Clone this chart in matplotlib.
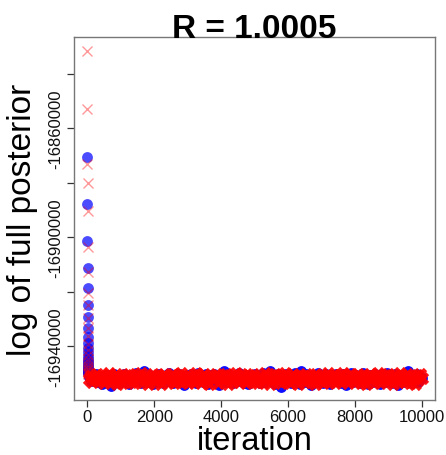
import numpy as np
import matplotlib
matplotlib.use("Agg")
import matplotlib.pyplot as plt

plt.rcParams['font.family'] = ['Liberation Sans', 'DejaVu Sans']

title_text = "R = 1.0005"
x_label = "iteration"
y_label = "log of full posterior"

# burn-in (first iterations) of the two chains
blue_burn_iter = list(range(1, 25))
blue_burn = [-16870440, -16887717, -16901540, -16911243, -16918596, -16924955,
             -16929477, -16933410, -16936828, -16939000, -16940800, -16942300,
             -16943600, -16944700, -16945600, -16946400, -16947100, -16947700,
             -16948200, -16948700, -16949100, -16949500, -16949800, -16950100]
red_burn_iter = list(range(1, 25))
red_burn = [-16831695, -16852905, -16873123, -16880107, -16890290, -16903744,
            -16912714, -16920654, -16924955, -16929623, -16933300, -16936500,
            -16939200, -16941400, -16943200, -16944700, -16945900, -16946900,
            -16947700, -16948400, -16949000, -16949500, -16949900, -16950200]

# stationary part, sampled every 50 iterations
band_iter = list(range(50, 10001, 50))
blue_band = [
    -16951500, -16952800, -16950800, -16952300, -16950300, -16953400, -16951800, -16951100, -16953900, -16951400,
    -16953100, -16950600, -16952500, -16954900, -16951200, -16950200, -16952700, -16951700, -16953600, -16950900,
    -16952200, -16950500, -16953200, -16951300, -16954000, -16951600, -16950700, -16952900, -16950100, -16952400,
    -16951000, -16953700, -16951900, -16949300, -16952600, -16950400, -16953300, -16951200, -16954100, -16951700,
    -16950800, -16953000, -16950200, -16952300, -16953500, -16951400, -16950600, -16952800, -16950000, -16952100,
    -16953800, -16951100, -16951600, -16953200, -16950400, -16952600, -16950900, -16954200, -16951800, -16950700,
    -16952900, -16950300, -16952400, -16951300, -16953600, -16949900, -16952200, -16951000, -16953300, -16951500,
    -16950500, -16953900, -16951700, -16950800, -16952700, -16950200, -16953100, -16951400, -16954400, -16951100,
    -16952100, -16949400, -16953400, -16951200, -16950400, -16952500, -16953800, -16950900, -16951600, -16952900,
    -16950100, -16952300, -16950700, -16953500, -16951300, -16954000, -16950600, -16951900, -16953000, -16950300,
    -16952600, -16951000, -16953700, -16951500, -16950000, -16953200, -16951800, -16950500, -16949200, -16952800,
    -16950800, -16954100, -16951400, -16950400, -16952400, -16955000, -16951100, -16953300, -16950200, -16952200,
    -16950900, -16953600, -16951600, -16949900, -16952900, -16950600, -16953900, -16949300, -16951700, -16953100,
    -16950300, -16952500, -16951200, -16954200, -16950700, -16952000, -16953400, -16950100, -16952700, -16951000,
    -16953800, -16951400, -16950500, -16952300, -16954000, -16950800, -16951800, -16953000, -16950200, -16952600,
    -16951100, -16953500, -16950400, -16951600, -16954300, -16950900, -16952100, -16950000, -16953200, -16951300,
    -16950600, -16952800, -16953700, -16951500, -16950100, -16952400, -16951000, -16954100, -16950700, -16951900,
    -16953100, -16950300, -16952600, -16951200, -16953900, -16950500, -16951700, -16953300, -16949900, -16952200,
    -16950800, -16953600, -16951400, -16950200, -16952900, -16954200, -16950600, -16951600, -16953200, -16950400,
    -16952500, -16949200, -16951100, -16953800, -16950900, -16952300, -16950500, -16953400, -16951300, -16951800,
]
red_band = [
    -16952300, -16950900, -16953400, -16951300, -16952600, -16950400, -16953000, -16951800, -16950700, -16953800,
    -16951200, -16952400, -16950100, -16953200, -16951500, -16952800, -16950500, -16954000, -16951900, -16951000,
    -16953500, -16951400, -16950800, -16952700, -16950200, -16953100, -16951700, -16953600, -16951100, -16950600,
    -16952500, -16950000, -16953300, -16951600, -16950900, -16953900, -16951300, -16952200, -16950400, -16952900,
    -16953400, -16950700, -16951800, -16954100, -16951000, -16950300, -16952600, -16951500, -16953200, -16951200,
    -16950500, -16953700, -16952300, -16950800, -16952800, -16950100, -16953100, -16951400, -16951900, -16953600,
    -16951100, -16952400, -16950600, -16953300, -16950000, -16952700, -16951700, -16953800, -16950900, -16950400,
    -16953000, -16951500, -16954000, -16950700, -16951800, -16952600, -16950200, -16953500, -16951200, -16952100,
    -16950800, -16952900, -16950300, -16953900, -16951600, -16951000, -16953400, -16951300, -16949900, -16952500,
    -16953200, -16950500, -16952200, -16951100, -16953700, -16951700, -16950700, -16952800, -16950200, -16953100,
    -16951400, -16953600, -16950900, -16951900, -16953300, -16950100, -16952400, -16951200, -16954000, -16950600,
    -16952700, -16950400, -16952100, -16953000, -16950800, -16953800, -16951500, -16950000, -16952900, -16951700,
    -16953500, -16951000, -16950300, -16952600, -16951800, -16953900, -16950700, -16952300, -16951200, -16953200,
    -16950200, -16952500, -16950900, -16953400, -16951400, -16954100, -16950500, -16951900, -16952800, -16950800,
    -16953700, -16951300, -16952200, -16950100, -16953100, -16951600, -16950600, -16953600, -16951100, -16952400,
    -16950700, -16953000, -16950000, -16952700, -16951700, -16953800, -16950400, -16952100, -16951000, -16953300,
    -16951500, -16950200, -16952900, -16953500, -16950800, -16951800, -16954000, -16951200, -16950500, -16952600,
    -16950900, -16953200, -16951600, -16950100, -16953700, -16951300, -16952300, -16950600, -16953000, -16950300,
    -16952800, -16951400, -16953900, -16950700, -16951900, -16953400, -16949900, -16952500, -16951100, -16953100,
    -16950400, -16952200, -16953600, -16951000, -16951600, -16954100, -16950800, -16952700, -16950200, -16951700,
]

x_ticks = [0, 2000, 4000, 6000, 8000, 10000]
y_ticks = [-16940000, -16920000, -16900000, -16880000, -16860000, -16840000]
y_tick_labels = ["-16940000", "", "-16900000", "", "-16860000", ""]

W, H = 446, 456
fig = plt.figure(figsize=(W / 100, H / 100), dpi=100)
L, R, T, B = 74, 435, 38, 401
ax = fig.add_axes([L / W, 1 - B / H, (R - L) / W, (B - T) / H])

# burn-in samples: light, single markers
ax.plot(blue_burn_iter, blue_burn, linestyle='none', marker='o', markersize=7.8,
        markerfacecolor=(0, 0, 1, 0.7), markeredgecolor='none', zorder=2)
# stationary samples: thousands of overlapping markers in the original -> dense look
ax.plot(band_iter, blue_band, linestyle='none', marker='o', markersize=7.8,
        markerfacecolor=(0.05, 0.05, 1, 1.0), markeredgecolor='none', zorder=2)
ax.plot(red_burn_iter, red_burn, linestyle='none', marker='x', markersize=7.0,
        markeredgewidth=1.0, color=(1, 0, 0, 0.4), zorder=3)
ax.plot(band_iter, red_band, linestyle='none', marker='x', markersize=7.8,
        markeredgewidth=3.4, color=(1, 0, 0, 0.92), zorder=3)

ax.set_xlim(-400, 10400)
ax.set_ylim(-16959877, -16826437)
ax.set_xticks(x_ticks)
ax.set_xticklabels([str(t) for t in x_ticks])
ax.set_yticks(y_ticks)
ax.set_yticklabels(y_tick_labels, rotation=90, va='center')

for s in ax.spines.values():
    s.set_color('#777777')
    s.set_linewidth(1.0)
ax.tick_params(axis='both', direction='out', length=5, width=0.9,
               color='#333333', labelsize=12, labelcolor='#111111')
ax.tick_params(axis='x', pad=1.5)
ax.tick_params(axis='y', pad=2.5)

fig.text((L + R) / 2 / W, 1 - 38.5 / H, title_text, ha='center', va='baseline',
         fontsize=24, fontweight='bold', color='black')
fig.text(((L + R) / 2) / W, 1 - 450 / H, x_label, ha='center', va='baseline',
         fontsize=23.5, color='black')
fig.text(23 / W, 1 - ((T + B) / 2) / H, y_label, ha='center', va='center',
         rotation=90, fontsize=24, color='black')

fig.savefig("out.png", dpi=100)
